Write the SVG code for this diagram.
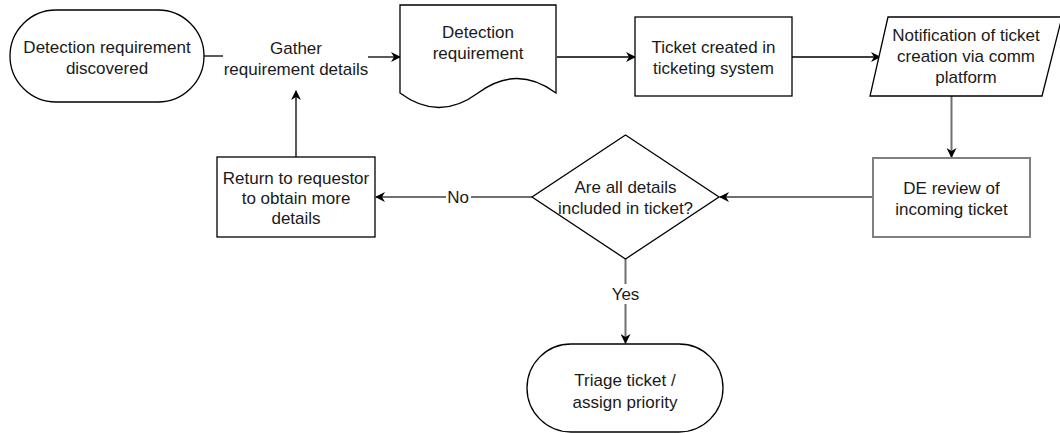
<svg xmlns="http://www.w3.org/2000/svg" width="1060" height="433" viewBox="0 0 1060 433">
<style>
.s{fill:#fff;stroke:#000;stroke-width:1.3}
.g{fill:#fff;stroke:#808080;stroke-width:2}
.t{font-family:"Liberation Sans",Arial,sans-serif;font-size:17px;fill:#1a1a1a;text-anchor:middle}
.e{fill:none;stroke:#000;stroke-width:1.3}
.eg{fill:none;stroke:#707070;stroke-width:2}
</style>
<defs>
<marker id="a" viewBox="0 0 10 10" refX="9" refY="5" markerWidth="10" markerHeight="10" markerUnits="userSpaceOnUse" orient="auto"><path d="M0,0 L10,5 L0,10 L3,5 z" fill="#000"/></marker>
</defs>
<rect width="1060" height="433" fill="#fff"/>
<g id="connectors">
<line class="e" x1="204" y1="56" x2="223" y2="56"/>
<line class="e" x1="368" y1="57" x2="400" y2="57" marker-end="url(#a)"/>
<line class="e" x1="557" y1="57" x2="635" y2="57" marker-end="url(#a)"/>
<line class="e" x1="792" y1="57" x2="880" y2="57" marker-end="url(#a)"/>
<line class="eg" x1="951.5" y1="96" x2="951.5" y2="157" marker-end="url(#a)"/>
<line class="eg" x1="873" y1="197" x2="720" y2="197" marker-end="url(#a)"/>
<line class="eg" x1="532" y1="197" x2="471" y2="197"/>
<line class="eg" x1="446" y1="197" x2="376" y2="197" marker-end="url(#a)"/>
<text class="t" x="458" y="203">No</text>
<line class="eg" x1="625.5" y1="259" x2="625.5" y2="284"/>
<line class="eg" x1="625.5" y1="304" x2="625.5" y2="343" marker-end="url(#a)"/>
<text class="t" x="625.5" y="300">Yes</text>
<line class="e" x1="296" y1="157" x2="296" y2="91" marker-end="url(#a)"/>
<text class="t" x="296" y="54">Gather</text>
<text class="t" x="296" y="75">requirement details</text>
</g>
<g id="start">
<rect class="s" x="10" y="10" width="194" height="92" rx="46" ry="46"/>
<text class="t" x="107" y="53">Detection requirement</text>
<text class="t" x="107" y="74">discovered</text>
</g>
<g id="doc">
<path class="s" d="M400,5 H556 V93 Q517,64 478,93 Q439,122 400,93 Z"/>
<text class="t" x="478" y="38">Detection</text>
<text class="t" x="478" y="59">requirement</text>
</g>
<g id="ticket">
<rect class="s" x="635" y="17" width="157" height="79"/>
<text class="t" x="713.5" y="53">Ticket created in</text>
<text class="t" x="713.5" y="74">ticketing system</text>
</g>
<g id="notify">
<path class="s" d="M888,17 H1062 L1042,96 H870 Z"/>
<text class="t" x="966" y="41">Notification of ticket</text>
<text class="t" x="966" y="62">creation via comm</text>
<text class="t" x="966" y="83">platform</text>
</g>
<g id="review">
<rect class="g" x="873" y="158" width="157" height="79"/>
<text class="t" x="951.5" y="194">DE review of</text>
<text class="t" x="951.5" y="215">incoming ticket</text>
</g>
<g id="decision">
<path class="s" d="M625.5,135 L719,197 L625.5,259 L532,197 Z"/>
<text class="t" x="625.5" y="193">Are all details</text>
<text class="t" x="625.5" y="214">included in ticket?</text>
</g>
<g id="return">
<rect class="s" x="217" y="157" width="158" height="80"/>
<text class="t" x="296" y="184">Return to requestor</text>
<text class="t" x="296" y="204">to obtain more</text>
<text class="t" x="296" y="224">details</text>
</g>
<g id="triage">
<rect class="s" x="527" y="344" width="196" height="88" rx="44" ry="44"/>
<text class="t" x="625" y="386">Triage ticket /</text>
<text class="t" x="625" y="408">assign priority</text>
</g>
</svg>
